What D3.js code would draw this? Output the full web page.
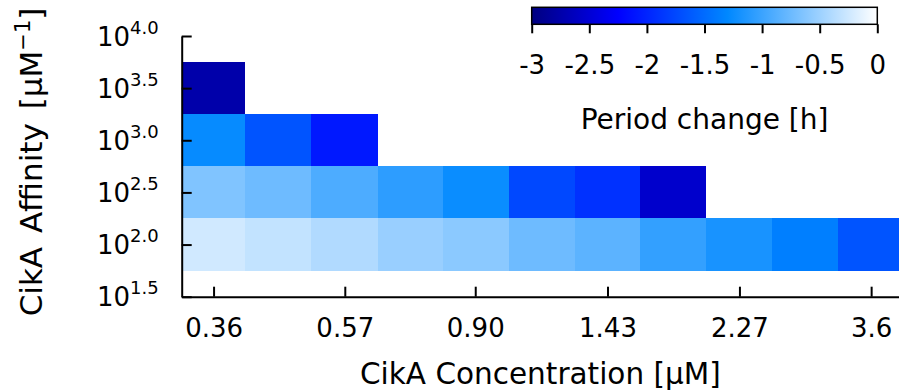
<!DOCTYPE html>
<html>
<head>
<meta charset="utf-8">
<script src="https://cdn.jsdelivr.net/npm/d3@7"></script>
<style>
  body { margin: 0; background: #fff; }
  svg { display: block; font-family: "DejaVu Sans", sans-serif; }
</style>
</head>
<body>
<svg id="chart" width="899" height="391"></svg>
<script>
// CikA concentration grid (µM), one column per value
const concentrations = [0.36, 0.45, 0.57, 0.72, 0.90, 1.14, 1.43, 1.80, 2.27, 2.86, 3.60];
// CikA affinity rows, as log10 of the affinity in µM^-1
const affinityExponents = [2.0, 2.5, 3.0, 3.5];

// Period change [h] along each affinity row (columns start at the lowest concentration)
const periodChangeAff20 = [-0.24, -0.31, -0.40, -0.52, -0.59, -0.74, -0.83, -1.04, -1.18, -1.36, -1.66];
const periodChangeAff25 = [-0.65, -0.74, -0.91, -1.07, -1.25, -1.75, -1.91, -2.55];
const periodChangeAff30 = [-1.27, -1.66, -2.08];
const periodChangeAff35 = [-2.75];

const concentrationTicks = [0.36, 0.57, 0.90, 1.43, 2.27, 3.6];
const concentrationTickLabels = ["0.36", "0.57", "0.90", "1.43", "2.27", "3.6"];
const affinityTicks = [1.5, 2.0, 2.5, 3.0, 3.5, 4.0];
const affinityTickLabels = ["1.5", "2.0", "2.5", "3.0", "3.5", "4.0"];
const colorbarTicks = [-3, -2.5, -2, -1.5, -1, -0.5, 0];
const colorbarTickLabels = ["-3", "-2.5", "-2", "-1.5", "-1", "-0.5", "0"];

// palette: dark navy -> blue -> azure -> white
const paletteStops = [-3, -2.25, -1.3, 0];
const paletteColors = ["#000080", "#0000ff", "#0088ff", "#ffffff"];

const rowValues = [periodChangeAff20, periodChangeAff25, periodChangeAff30, periodChangeAff35];

const svg = d3.select("#chart");

// ---- layout ----
const plotLeft = 181.7, plotRight = 904, plotTop = 36, plotBottom = 296.7;

// cell edges in log space: midpoints between neighbouring concentrations
const logC = concentrations.map(Math.log10);
const edges = [];
for (let i = 0; i <= logC.length; i++) {
  if (i === 0) edges.push(logC[0] - (logC[1] - logC[0]) / 2);
  else if (i === logC.length) edges.push(logC[i - 1] + (logC[i - 1] - logC[i - 2]) / 2);
  else edges.push((logC[i - 1] + logC[i]) / 2);
}

const x = d3.scaleLog()
  .domain([Math.pow(10, edges[0]), Math.pow(10, edges[edges.length - 1])])
  .range([plotLeft, plotRight]);

const y = d3.scaleLinear()
  .domain([affinityTicks[0], affinityTicks[affinityTicks.length - 1]])
  .range([plotBottom, plotTop]);

const color = d3.scaleLinear()
  .domain(paletteStops)
  .range(paletteColors)
  .interpolate(d3.interpolateRgb)
  .clamp(true);

// ---- heatmap cells ----
const halfRow = (affinityExponents[1] - affinityExponents[0]) / 2;
const cells = [];
rowValues.forEach((vals, r) => {
  vals.forEach((v, c) => {
    cells.push({ exp: affinityExponents[r], col: c, value: v });
  });
});

svg.append("g")
  .selectAll("rect")
  .data(cells)
  .join("rect")
  .attr("x", d => x(Math.pow(10, edges[d.col])))
  .attr("width", d => x(Math.pow(10, edges[d.col + 1])) - x(Math.pow(10, edges[d.col])))
  .attr("y", d => y(d.exp + halfRow))
  .attr("height", d => y(d.exp - halfRow) - y(d.exp + halfRow))
  .attr("fill", d => color(d.value))
  .attr("shape-rendering", "crispEdges");

// ---- axes ----
const tickFont = 26;

const xAxis = svg.append("g")
  .attr("transform", `translate(0,${plotBottom})`)
  .call(d3.axisBottom(x)
    .tickValues(concentrationTicks)
    .tickSize(-10)
    .tickSizeOuter(0)
    .tickFormat((d, i) => concentrationTickLabels[i]));

xAxis.selectAll(".tick text")
  .attr("y", 40)
  .attr("dy", 0)
  .attr("font-size", tickFont)
  .attr("fill", "#000");

const yAxis = svg.append("g")
  .attr("transform", `translate(${plotLeft},0)`)
  .call(d3.axisLeft(y)
    .tickValues(affinityTicks)
    .tickSize(-10)
    .tickSizeOuter(0)
    .tickFormat(""));

yAxis.selectAll(".tick text")
  .attr("x", -23)
  .attr("dy", 9)
  .attr("font-size", tickFont)
  .attr("fill", "#000")
  .each(function (d, i) {
    const t = d3.select(this);
    t.text(null);
    t.append("tspan").text("10");
    t.append("tspan").attr("dy", -12).attr("font-size", 18).text(affinityTickLabels[i]);
  });

[xAxis, yAxis].forEach(g => {
  g.attr("font-family", null);
  g.select(".domain").attr("stroke", "#000").attr("stroke-width", 2);
  g.selectAll(".tick line").attr("stroke", "#000").attr("stroke-width", 2);
});

// ---- axis titles ----
svg.append("text")
  .attr("x", (plotLeft + 899) / 2)
  .attr("y", 384)
  .attr("text-anchor", "middle")
  .attr("font-size", 29.5)
  .text("CikA Concentration [μM]");

const yTitle = svg.append("text")
  .attr("transform", `translate(42,162) rotate(-90)`)
  .attr("text-anchor", "middle")
  .attr("font-size", 31)
  .attr("word-spacing", 4);
yTitle.append("tspan").text("CikA Affinity [μM");
yTitle.append("tspan").attr("dy", -12).attr("font-size", 21).text("−1");
yTitle.append("tspan").attr("dy", 12).text("]");

// ---- colorbar ----
const cbLeft = 531.7, cbRight = 877.3, cbTop = 7.3, cbHeight = 17;
const cbScale = d3.scaleLinear()
  .domain([colorbarTicks[0], colorbarTicks[colorbarTicks.length - 1]])
  .range([cbLeft, cbRight]);

const grad = svg.append("defs").append("linearGradient")
  .attr("id", "cbGrad")
  .attr("x1", "0%").attr("x2", "100%").attr("y1", "0%").attr("y2", "0%");
grad.selectAll("stop")
  .data(paletteStops)
  .join("stop")
  .attr("offset", d => (cbScale(d) - cbLeft) / (cbRight - cbLeft))
  .attr("stop-color", (d, i) => paletteColors[i]);

svg.append("rect")
  .attr("x", cbLeft)
  .attr("y", cbTop)
  .attr("width", cbRight - cbLeft)
  .attr("height", cbHeight)
  .attr("fill", "url(#cbGrad)")
  .attr("stroke", "#000")
  .attr("stroke-width", 1.5);

const cbAxis = svg.append("g")
  .attr("transform", `translate(0,${cbTop + cbHeight})`)
  .call(d3.axisBottom(cbScale)
    .tickValues(colorbarTicks)
    .tickSize(9)
    .tickSizeOuter(0)
    .tickFormat((d, i) => colorbarTickLabels[i]));
cbAxis.attr("font-family", null);
cbAxis.select(".domain").remove();
cbAxis.selectAll(".tick line").attr("stroke", "#000").attr("stroke-width", 2);
cbAxis.selectAll(".tick text")
  .attr("y", 50)
  .attr("dy", 0)
  .attr("font-size", tickFont)
  .attr("fill", "#000");

svg.append("text")
  .attr("x", (cbLeft + cbRight) / 2)
  .attr("y", 129)
  .attr("text-anchor", "middle")
  .attr("font-size", 28)
  .text("Period change [h]");
</script>
</body>
</html>
